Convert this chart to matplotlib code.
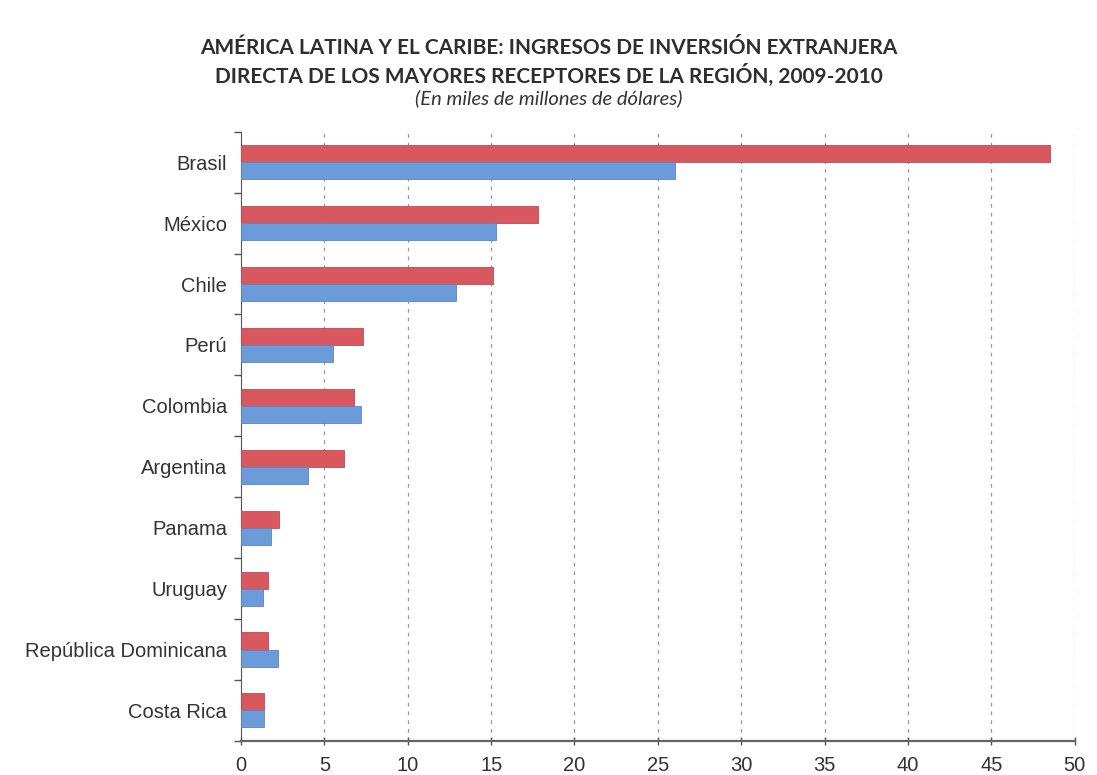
import matplotlib.pyplot as plt
import numpy as np

paises = ["Brasil", "México", "Chile", "Perú", "Colombia", "Argentina",
          "Panama", "Uruguay", "República Dominicana", "Costa Rica"]
ied_2010 = [48.5, 17.8, 15.1, 7.3, 6.8, 6.2, 2.3, 1.6, 1.6, 1.4]
ied_2009 = [26.0, 15.3, 12.9, 5.5, 7.2, 4.0, 1.8, 1.3, 2.2, 1.35]
ticks_x = [0, 5, 10, 15, 20, 25, 30, 35, 40, 45, 50]

rojo = "#d9575f"
azul = "#6b9bd8"

fig = plt.figure(figsize=(10.97, 7.75), dpi=100)
ax = fig.add_axes([0.2197, 0.044, 0.76, 0.786])

y = np.arange(len(paises))
h = 0.28
ax.barh(y - h / 2, ied_2010, height=h, color=rojo, edgecolor="#c04a55", linewidth=0.6, zorder=3)
ax.barh(y + h / 2, ied_2009, height=h, color=azul, edgecolor="#5a86c2", linewidth=0.6, zorder=3)

ax.set_ylim(len(paises) - 0.5, -0.5)
ax.set_xlim(0, 50)
ax.set_xticks(ticks_x)
ax.set_xticklabels([str(t) for t in ticks_x], fontsize=14.5, family="Liberation Sans", color="#333333")

# etiquetas centradas en cada grupo, ticks en los bordes
ax.set_yticks(y)
ax.set_yticklabels(paises, fontsize=14.5, family="Liberation Sans", color="#333333")
ax.tick_params(axis="y", length=0, pad=10)
ax.set_yticks(np.arange(len(paises) + 1) - 0.5, minor=True)
ax.tick_params(axis="y", which="minor", length=5, width=1, color="#555555")
ax.tick_params(axis="x", length=6, direction="inout", width=1, color="#555555", pad=8)

for t in ticks_x[1:]:
    ax.axvline(t, color="#9a9a9a", linestyle=(0, (3, 4)), linewidth=0.9, zorder=1)

for s in ["top", "right"]:
    ax.spines[s].set_visible(False)
ax.spines["left"].set_color("#555555")
ax.spines["bottom"].set_color("#666666")
ax.spines["bottom"].set_linewidth(1.6)

fig.text(0.5, 0.938, "AMÉRICA LATINA Y EL CARIBE: INGRESOS DE INVERSIÓN EXTRANJERA",
         ha="center", va="center", fontsize=15, fontweight="bold", family="Lato", color="#2e2e2e")
fig.text(0.5, 0.902, "DIRECTA DE LOS MAYORES RECEPTORES DE LA REGIÓN, 2009-2010",
         ha="center", va="center", fontsize=15, fontweight="bold", family="Lato", color="#2e2e2e")
fig.text(0.5, 0.873, "(En miles de millones de dólares)",
         ha="center", va="center", fontsize=14.5, style="italic", family="Lato", color="#333333")

fig.savefig("out.png", dpi=100)
